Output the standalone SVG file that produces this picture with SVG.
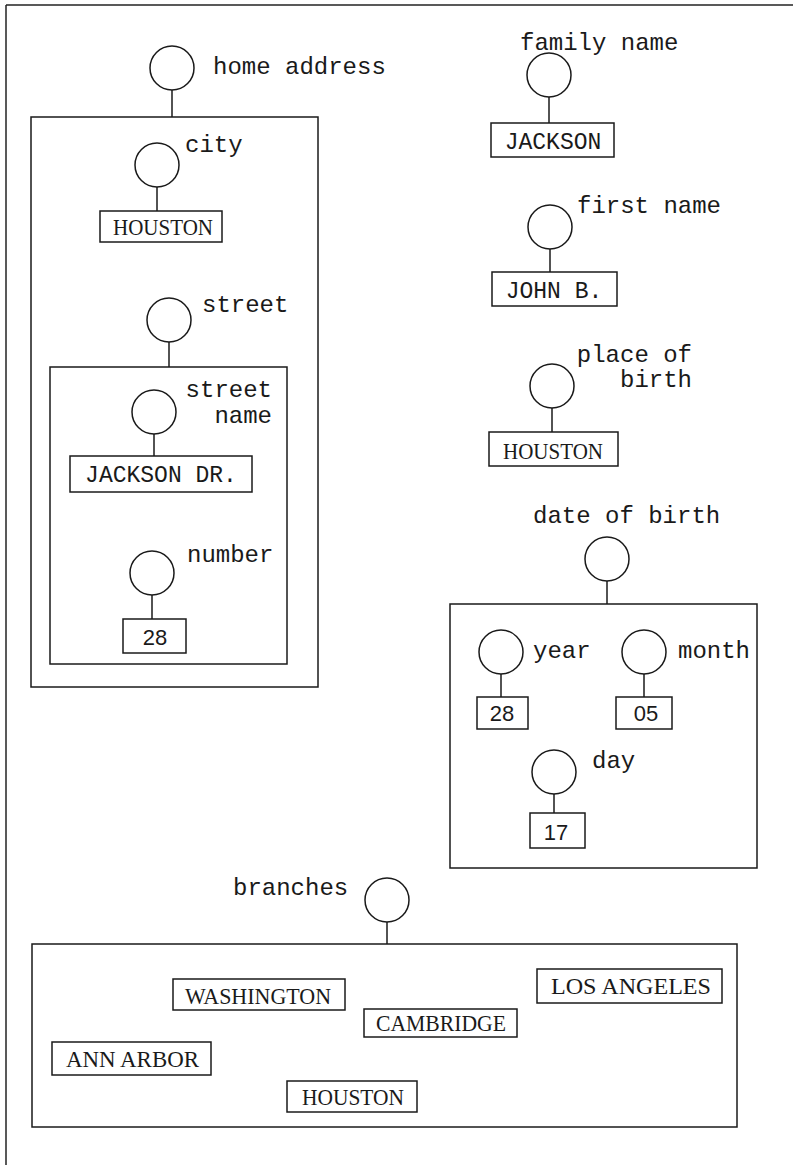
<svg xmlns="http://www.w3.org/2000/svg" width="793" height="1165" viewBox="0 0 793 1165">
<style>
.bg{fill:#fff}
.frame{fill:none;stroke:#222;stroke-width:1.5}
.c{fill:none;stroke:#1a1a1a;stroke-width:1.5}
.box{fill:none;stroke:#1a1a1a;stroke-width:1.5}
.con{stroke:#1a1a1a;stroke-width:1.5}
.lbl{font-family:"Liberation Mono","Courier New",monospace;font-size:24px;fill:#1a1a1a}
.val{font-family:"Liberation Mono","Courier New",monospace;font-size:23px;fill:#1a1a1a;text-anchor:middle}
.ser{font-family:"Liberation Serif","Times New Roman",serif;font-size:23px;fill:#1a1a1a}
.num{font-family:"Liberation Sans",Arial,sans-serif;font-size:22px;fill:#1a1a1a;text-anchor:middle}
</style>
<rect class="bg" x="0" y="0" width="793" height="1165"/>
<g id="frame">
<line class="frame" x1="6" y1="5" x2="793" y2="5"/>
<line class="frame" x1="6" y1="5" x2="6" y2="1165"/>
</g>
<g id="connectors">
<line class="con" x1="172" y1="90" x2="172" y2="117"/>
<line class="con" x1="157" y1="187" x2="157" y2="211"/>
<line class="con" x1="169" y1="342" x2="169" y2="367"/>
<line class="con" x1="154" y1="434" x2="154" y2="456"/>
<line class="con" x1="152" y1="595" x2="152" y2="619"/>
<line class="con" x1="549" y1="97" x2="549" y2="123"/>
<line class="con" x1="550" y1="249" x2="550" y2="272"/>
<line class="con" x1="552" y1="408" x2="552" y2="432"/>
<line class="con" x1="607" y1="581" x2="607" y2="604"/>
<line class="con" x1="501" y1="674" x2="501" y2="697"/>
<line class="con" x1="644" y1="674" x2="644" y2="697"/>
<line class="con" x1="554" y1="794" x2="554" y2="813"/>
<line class="con" x1="387" y1="922" x2="387" y2="944"/>
</g>
<g id="home-address">
<circle class="c" cx="172" cy="68" r="22"/>
<text class="lbl" x="213" y="74">home address</text>
<rect class="box" x="31" y="117" width="287" height="570"/>
</g>
<g id="city">
<circle class="c" cx="157" cy="165" r="22"/>
<text class="lbl" x="185" y="152">city</text>
<rect class="box" x="100" y="211" width="122" height="31"/>
<text class="ser" x="113" y="235" textLength="100" lengthAdjust="spacingAndGlyphs">HOUSTON</text>
</g>
<g id="street">
<circle class="c" cx="169" cy="320" r="22"/>
<text class="lbl" x="202" y="312">street</text>
<rect class="box" x="50" y="367" width="237" height="297"/>
</g>
<g id="street-name">
<circle class="c" cx="154" cy="412" r="22"/>
<text class="lbl" x="272" y="397" text-anchor="end">street</text>
<text class="lbl" x="272" y="423" text-anchor="end">name</text>
<rect class="box" x="70" y="456" width="182" height="36"/>
<text class="val" x="161" y="482">JACKSON DR.</text>
</g>
<g id="number">
<circle class="c" cx="152" cy="573" r="22"/>
<text class="lbl" x="187" y="562">number</text>
<rect class="box" x="123" y="619" width="63" height="34"/>
<text class="num" x="155" y="645">28</text>
</g>
<g id="family-name">
<circle class="c" cx="549" cy="75" r="22"/>
<text class="lbl" x="520" y="50">family name</text>
<rect class="box" x="491" y="123" width="123" height="34"/>
<text class="val" x="553" y="149">JACKSON</text>
</g>
<g id="first-name">
<circle class="c" cx="550" cy="227" r="22"/>
<text class="lbl" x="577" y="213">first name</text>
<rect class="box" x="492" y="272" width="125" height="34"/>
<text class="val" x="554" y="298">JOHN B.</text>
</g>
<g id="place-of-birth">
<circle class="c" cx="552" cy="386" r="22"/>
<text class="lbl" x="692" y="362" text-anchor="end">place of</text>
<text class="lbl" x="692" y="387" text-anchor="end">birth</text>
<rect class="box" x="489" y="432" width="129" height="34"/>
<text class="ser" x="503" y="459" textLength="100" lengthAdjust="spacingAndGlyphs">HOUSTON</text>
</g>
<g id="date-of-birth">
<circle class="c" cx="607" cy="559" r="22"/>
<text class="lbl" x="533" y="523">date of birth</text>
<rect class="box" x="450" y="604" width="307" height="264"/>
</g>
<g id="year">
<circle class="c" cx="501" cy="652" r="22"/>
<text class="lbl" x="533" y="658">year</text>
<rect class="box" x="477" y="697" width="51" height="32"/>
<text class="num" x="502" y="721">28</text>
</g>
<g id="month">
<circle class="c" cx="644" cy="652" r="22"/>
<text class="lbl" x="678" y="658">month</text>
<rect class="box" x="616" y="697" width="56" height="32"/>
<text class="num" x="646" y="721">05</text>
</g>
<g id="day">
<circle class="c" cx="554" cy="772" r="22"/>
<text class="lbl" x="592" y="768">day</text>
<rect class="box" x="530" y="813" width="55" height="35"/>
<text class="num" x="556" y="840">17</text>
</g>
<g id="branches">
<circle class="c" cx="387" cy="900" r="22"/>
<text class="lbl" x="233" y="895">branches</text>
<rect class="box" x="32" y="944" width="705" height="183"/>
</g>
<g id="washington">
<rect class="box" x="173" y="979" width="172" height="31"/>
<text class="ser" x="185" y="1004" textLength="146" lengthAdjust="spacingAndGlyphs">WASHINGTON</text>
</g>
<g id="cambridge">
<rect class="box" x="364" y="1009" width="153" height="28"/>
<text class="ser" x="376" y="1031" textLength="130" lengthAdjust="spacingAndGlyphs">CAMBRIDGE</text>
</g>
<g id="los-angeles">
<rect class="box" x="537" y="969" width="185" height="34"/>
<text class="ser" x="551" y="994" textLength="160" lengthAdjust="spacingAndGlyphs">LOS ANGELES</text>
</g>
<g id="ann-arbor">
<rect class="box" x="52" y="1042" width="159" height="33"/>
<text class="ser" x="66" y="1067" textLength="133" lengthAdjust="spacingAndGlyphs">ANN ARBOR</text>
</g>
<g id="houston-branch">
<rect class="box" x="287" y="1081" width="130" height="31"/>
<text class="ser" x="302" y="1105" textLength="102" lengthAdjust="spacingAndGlyphs">HOUSTON</text>
</g>
</svg>
